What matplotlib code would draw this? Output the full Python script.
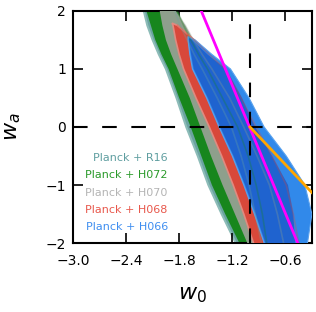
import numpy as np
import matplotlib.pyplot as plt

# niveles de w_a donde se leyeron los bordes de cada contorno
wa_lev = np.array([2.3, 2.0, 1.75, 1.5, 1.25, 1.0, 0.5, 0.0, -0.5, -1.0, -1.5, -2.0, -2.3])
nan = np.nan

# bordes izquierdo / derecho (w_0) de cada contorno
r16_left = [-2.26, -2.20, -2.16, -2.10, -2.03, -1.95, -1.83, -1.72, -1.59, -1.47, -1.32, -1.16, -1.05]
r16_right = [-1.94, -1.85, -1.79, -1.71, -1.63, -1.54, -1.37, -1.21, -1.10, -1.01, -0.94, -0.87, -0.83]
h072_left = [-2.22, -2.17, -2.12, -2.07, -2.00, -1.92, -1.80, -1.67, -1.55, -1.43, -1.28, -1.12, -1.02]
h072_right = [-1.92, -1.82, -1.75, -1.67, -1.58, -1.48, -1.31, -1.14, -1.02, -0.93, -0.86, -0.81, -0.76]
h070_left = [-2.08, -2.02, -1.99, -1.95, -1.89, -1.82, -1.68, -1.56, -1.44, -1.31, -1.17, -1.03, -0.95]
h070_right = [-1.93, -1.84, -1.73, -1.64, -1.54, -1.43, -1.23, -1.07, -0.92, -0.78, -0.69, -0.62, -0.57]
h068_left = [nan, nan, -1.87, -1.84, -1.80, -1.75, -1.61, -1.46, -1.32, -1.19, -1.07, -0.96, -0.91]
h068_right = [nan, nan, -1.82, -1.63, -1.46, -1.28, -1.10, -0.93, -0.75, -0.59, -0.51, -0.45, -0.41]
h068_tip = (-1.88, 1.79)
h066_left = [nan, nan, nan, -1.70, -1.68, -1.65, -1.49, -1.35, -1.20, -1.07, -0.95, -0.84, -0.78]
h066_right = [nan, nan, nan, -1.62, -1.43, -1.22, -1.01, -0.84, -0.59, -0.38, -0.30, -0.35, -0.33]
h066_tip = (-1.70, 1.56)
# región 1 sigma (azul oscuro) de H066
h066_in_left = [nan, nan, nan, -1.69, -1.665, -1.635, -1.475, -1.335, -1.185, -1.055, -0.935, -0.825, -0.765]
h066_in_right = [nan, nan, nan, -1.655, -1.48, -1.27, -1.09, -0.94, -0.75, -0.57, -0.51, -0.49, -0.47]
h066_in_tip = (-1.69, 1.53)

etiquetas = ["Planck + R16", "Planck + H072", "Planck + H070", "Planck + H068", "Planck + H066"]
colores_txt = ["#5f9ea0", "#2a9a2a", "#b4b4b4", "#e8584c", "#3f8ef0"]

# rectas
mag_w0 = [-1.55, -0.46]
mag_wa = [2.0, -2.0]
ora_w0 = [-1.0, -0.3]
ora_wa = [0.0, -1.13]


def poligono(izq, der, tip=None):
    izq = np.array(izq)
    der = np.array(der)
    ok = ~np.isnan(izq)
    x = np.concatenate([izq[ok], der[ok][::-1]])
    y = np.concatenate([wa_lev[ok], wa_lev[ok][::-1]])
    if tip is not None:
        x = np.concatenate([[tip[0]], x])
        y = np.concatenate([[tip[1]], y])
    return x, y


fig = plt.figure(figsize=(3.16, 3.12), dpi=100)
ax = fig.add_axes([0.231, 0.221, 0.756, 0.744])

x, y = poligono(r16_left, r16_right)
ax.fill(x, y, color="#6aa3a0", lw=1.5, ec="#8dbcb8", zorder=1)
x, y = poligono(h072_left, h072_right)
ax.fill(x, y, color="#17861d", lw=0, zorder=2)
x, y = poligono(h070_left, h070_right)
ax.fill(x, y, color="#8e9f8c", lw=0, zorder=3)
x, y = poligono(h068_left, h068_right, h068_tip)
ax.fill(x, y, color="#d8483a", lw=1.2, ec="#e08a80", zorder=4)
x, y = poligono(h066_left, h066_right, h066_tip)
ax.fill(x, y, color="#3189ea", lw=0.8, ec="#5aa2ee", zorder=5)
x, y = poligono(h066_in_left, h066_in_right, h066_in_tip)
ax.fill(x, y, color="#1f63cf", lw=0, zorder=6)

# bordes de los contornos de abajo que se transparentan
for der, c in [(r16_right, "#6aa3a0"), (h072_right, "#17861d"),
               (h070_right, "#8e9f8c"), (h068_right, "#d8483a")]:
    ax.plot(der, wa_lev, color=c, lw=1.2, alpha=0.3, zorder=7)

ax.axhline(0, color="k", lw=1.5, ls=(0, (7, 7)), zorder=8)
ax.axvline(-1, color="k", lw=1.5, ls=(0, (7, 7)), zorder=8)
ax.plot(mag_w0, mag_wa, color="#ff00ff", lw=2, zorder=9)
ax.plot(ora_w0, ora_wa, color="#ffa500", lw=2, zorder=9)

for i, (t, c) in enumerate(zip(etiquetas, colores_txt)):
    ax.text(0.397, 0.366 - i * 0.0746, t, color=c, fontsize=8,
            ha="right", va="center", transform=ax.transAxes, zorder=10)

ax.set_xlim(-3.0, -0.3)
ax.set_ylim(-2, 2)
ax.set_xticks([-3.0, -2.4, -1.8, -1.2, -0.6])
ax.set_xticklabels(["\u22123.0", "\u22122.4", "\u22121.8", "\u22121.2", "\u22120.6"])
ax.set_yticks([-2, -1, 0, 1, 2])
ax.tick_params(direction="in", length=7, width=1.2, labelsize=10,
               top=True, right=True)
ax.tick_params(axis="x", pad=8)
ax.tick_params(axis="y", pad=5)
for s in ax.spines.values():
    s.set_linewidth(1.5)
ax.set_xlabel("$w_0$", fontsize=16, labelpad=12)
ax.set_ylabel("$w_a$", fontsize=16, labelpad=16)

fig.savefig("out.png", dpi=100)
